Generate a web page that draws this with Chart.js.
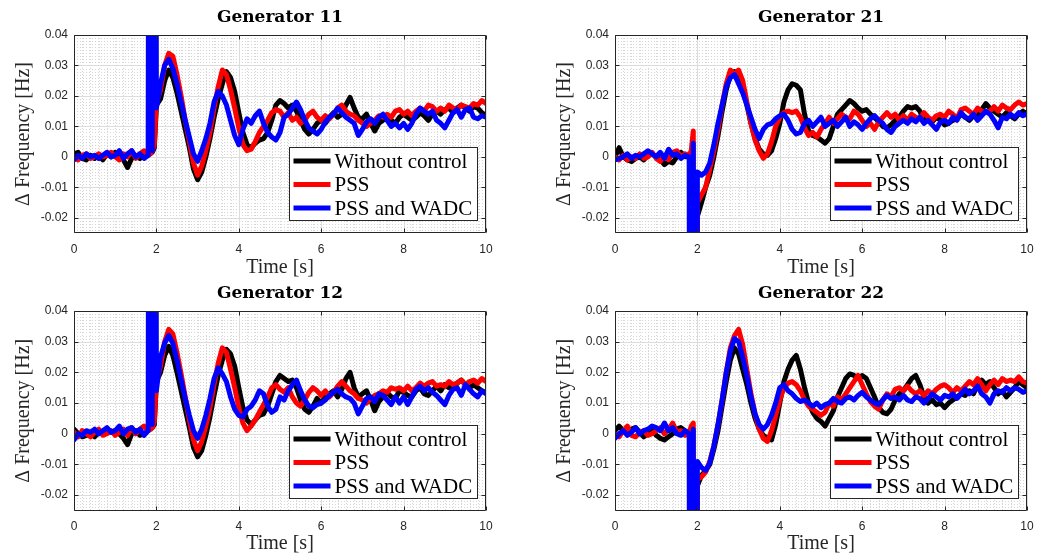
<!DOCTYPE html>
<html>
<head>
<meta charset="utf-8">
<title>Generator frequency deviation</title>
<script src="https://cdn.jsdelivr.net/npm/chart.js@4.4.1/dist/chart.umd.min.js"></script>
<style>
  html, body { margin: 0; padding: 0; background: #ffffff; }
  #wrap { position: relative; width: 1048px; height: 556px; overflow: hidden; }
  #wrap canvas { position: absolute; }
</style>
</head>
<body>
<div id="wrap"></div>
<script>
// ---- sample times [s]: 0.1 s steps, with extra samples during the fault ----
const timeS = [
  ...Array.from({ length: 19 }, (_, i) => +(i / 10).toFixed(2)),
  1.85, 1.9, 1.95,
  ...Array.from({ length: 81 }, (_, i) => +(2 + i / 10).toFixed(2))
];

const xTicks = [0, 2, 4, 6, 8, 10];
const yTicks = [-0.02, -0.01, 0, 0.01, 0.02, 0.03, 0.04];
const seriesNames = ['Without control', 'PSS', 'PSS and WADC'];
const seriesColors = ['#000000', '#ff0000', '#0000ff'];
const panelTitles = ['Generator 11', 'Generator 21', 'Generator 12', 'Generator 22'];

// ---- Generator 11 : frequency deviation [Hz] ----
const g11NoCtrl = [
  0.001, 0.0015, -0.0005, -0.001, 0.0005, -0.0005, 0.0005, -0.001, 0.001, 0, 0.0015, 0.0005, -0.001, -0.0035, -0.0005, 0.0005, -0.0005, 0.0005, 0.0005,
  0.001, 0.0015, 0.003,
  0.017, 0.019, 0.025, 0.0285, 0.026, 0.021, 0.015, 0.009, 0.003, -0.004,
  -0.0075, -0.005, 0, 0.006, 0.013, 0.019, 0.024, 0.028, 0.026, 0.0215,
  0.0145, 0.008, 0.004, 0.003, 0.0045, 0.0055, 0.006, 0.008, 0.012, 0.017,
  0.0185, 0.0175, 0.016, 0.017, 0.015, 0.012, 0.009, 0.0075, 0.009, 0.011,
  0.012, 0.011, 0.013, 0.0145, 0.013, 0.014, 0.017, 0.0195, 0.016, 0.013,
  0.0125, 0.014, 0.011, 0.0085, 0.011, 0.012, 0.013, 0.012, 0.011, 0.013,
  0.014, 0.013, 0.012, 0.013, 0.0145, 0.0135, 0.012, 0.014, 0.015, 0.014,
  0.0155, 0.016, 0.0145, 0.016, 0.017, 0.016, 0.015, 0.0165, 0.016, 0.0145,
  0.0135
];
const g11Pss = [
  0, -0.001, 0.0005, 0.001, -0.0005, 0, 0.001, 0, 0.0005, 0.0015, 0, -0.001, 0.001, 0, 0.002, -0.0005, 0.001, 0.002, 0.0005,
  0.001, 0.002, 0.004,
  0.018, 0.022, 0.030, 0.034, 0.033, 0.027, 0.020, 0.012, 0.005, -0.002,
  -0.006, -0.003, 0.002, 0.008, 0.016, 0.023, 0.0285, 0.027, 0.022, 0.016,
  0.0095, 0.004, 0.002, 0.0025, 0.005, 0.008, 0.010, 0.012, 0.0145, 0.0155,
  0.015, 0.013, 0.0145, 0.012, 0.013, 0.011, 0.012, 0.014, 0.015, 0.013,
  0.012, 0.0135, 0.0125, 0.014, 0.016, 0.017, 0.015, 0.014, 0.0135, 0.012,
  0.011, 0.010, 0.011, 0.012, 0.0135, 0.013, 0.014, 0.013, 0.015, 0.0155,
  0.014, 0.015, 0.0135, 0.015, 0.016, 0.015, 0.017, 0.0165, 0.015, 0.016,
  0.015, 0.017, 0.016, 0.0155, 0.017, 0.0165, 0.016, 0.0175, 0.017, 0.0185,
  0.0175
];
const g11Wadc = [
  -0.001, 0.0005, -0.0005, 0.001, 0, 0.0005, -0.0005, 0.0005, 0.0015, 0, 0.0005, 0.002, -0.0005, 0.001, 0.002, 0, 0.001, -0.0005, 0.0005,
  0.4, 0.002, 0.4,
  0.016, 0.024, 0.030, 0.032, 0.029, 0.024, 0.018, 0.012, 0.0065, 0.001,
  -0.0015, 0.002, 0.006, 0.011, 0.018, 0.0215, 0.020, 0.017, 0.012, 0.007,
  0.004, 0.009, 0.0125, 0.011, 0.0135, 0.015, 0.011, 0.008, 0.0065, 0.0055,
  0.008, 0.013, 0.014, 0.016, 0.018, 0.0155, 0.012, 0.0095, 0.0085, 0.0075,
  0.009, 0.0115, 0.013, 0.014, 0.016, 0.0145, 0.013, 0.012, 0.011, 0.007,
  0.009, 0.0115, 0.0125, 0.011, 0.013, 0.014, 0.012, 0.010, 0.011, 0.0095,
  0.011, 0.009, 0.011, 0.014, 0.016, 0.015, 0.014, 0.015, 0.012, 0.011,
  0.0095, 0.012, 0.0145, 0.0155, 0.013, 0.0155, 0.016, 0.013, 0.0125, 0.0135,
  0.013
];

// ---- Generator 12 ----
const g12NoCtrl = [
  0.0015, 0, -0.001, -0.0005, 0, -0.001, 0.0005, 0, 0.0015, 0.0005, 0.001, 0, -0.0015, -0.0035, 0, 0.001, -0.0005, 0, 0.001,
  0.0015, 0.002, 0.003,
  0.017, 0.020, 0.0255, 0.0285, 0.0255, 0.020, 0.014, 0.008, 0.002, -0.0045,
  -0.0075, -0.0055, -0.0005, 0.0055, 0.0125, 0.019, 0.024, 0.0275, 0.026, 0.022,
  0.015, 0.0085, 0.0045, 0.003, 0.0045, 0.006, 0.0065, 0.009, 0.013, 0.017,
  0.019, 0.018, 0.017, 0.0175, 0.015, 0.011, 0.008, 0.007, 0.009, 0.0115,
  0.010, 0.012, 0.013, 0.014, 0.012, 0.0145, 0.018, 0.020, 0.015, 0.012,
  0.013, 0.014, 0.011, 0.0075, 0.0105, 0.012, 0.0135, 0.012, 0.0115, 0.014,
  0.0135, 0.0125, 0.012, 0.014, 0.015, 0.013, 0.0125, 0.014, 0.0155, 0.014,
  0.016, 0.015, 0.0155, 0.0165, 0.0175, 0.016, 0.015, 0.016, 0.015, 0.014,
  0.0135
];
const g12Pss = [
  0.0005, -0.001, 0.001, 0, -0.001, 0.0005, 0.0015, -0.0005, 0, 0.001, -0.0005, 0.0005, 0.0015, -0.0005, 0.002, 0, 0.0015, 0.0025, 0.001,
  0.0015, 0.002, 0.004,
  0.017, 0.022, 0.030, 0.034, 0.0325, 0.0265, 0.0195, 0.012, 0.0045, -0.002,
  -0.0055, -0.0025, 0.0025, 0.0085, 0.016, 0.023, 0.028, 0.0265, 0.021, 0.015,
  0.0085, 0.0035, 0.001, 0.0025, 0.0045, 0.007, 0.0095, 0.012, 0.015, 0.016,
  0.0145, 0.0135, 0.015, 0.012, 0.010, 0.009, 0.011, 0.0135, 0.015, 0.014,
  0.0125, 0.014, 0.012, 0.0135, 0.0155, 0.017, 0.0155, 0.014, 0.013, 0.0115,
  0.011, 0.010, 0.0115, 0.0125, 0.013, 0.014, 0.0135, 0.015, 0.0145, 0.015,
  0.014, 0.0155, 0.014, 0.015, 0.0165, 0.0155, 0.0165, 0.017, 0.0155, 0.016,
  0.0155, 0.017, 0.016, 0.0165, 0.0175, 0.016, 0.017, 0.0175, 0.0165, 0.018,
  0.017
];
const g12Wadc = [
  -0.002, 0, -0.0005, 0.001, 0.0005, 0.0015, 0, 0.001, 0.002, 0.0005, 0.001, 0.0025, 0, 0.0015, 0.002, 0.0005, 0.0015, -0.0005, 0.001,
  0.4, 0.003, 0.4,
  0.014, 0.025, 0.0295, 0.032, 0.0295, 0.024, 0.0175, 0.0115, 0.006, 0.001,
  -0.0015, 0.0015, 0.006, 0.0115, 0.018, 0.0215, 0.0195, 0.017, 0.012, 0.008,
  0.006, 0.0055, 0.008, 0.009, 0.011, 0.014, 0.013, 0.009, 0.007, 0.008,
  0.012, 0.011, 0.014, 0.016, 0.0175, 0.014, 0.011, 0.009, 0.0085, 0.0095,
  0.010, 0.011, 0.0125, 0.0135, 0.0145, 0.013, 0.012, 0.0115, 0.010, 0.0065,
  0.009, 0.0115, 0.012, 0.0105, 0.013, 0.0125, 0.011, 0.0095, 0.012, 0.010,
  0.012, 0.0095, 0.012, 0.0145, 0.0155, 0.014, 0.015, 0.0135, 0.0125, 0.011,
  0.0095, 0.0125, 0.0145, 0.015, 0.0125, 0.016, 0.0145, 0.013, 0.012, 0.014,
  0.013
];

// ---- Generator 21 ----
const g21NoCtrl = [
  0, 0.003, 0, -0.001, -0.0015, -0.0005, 0, -0.001, 0.0005, 0.001, 0, -0.001, -0.0025, -0.0015, -0.002, 0, 0.0015, 0, 0,
  -0.0005, -0.4, -0.4,
  -0.0195, -0.015, -0.010, -0.006, 0, 0.007, 0.015, 0.022, 0.027, 0.028,
  0.0275, 0.023, 0.017, 0.011, 0.006, 0.0025, 0.001, 0.0005, 0.002, 0.006,
  0.011, 0.018, 0.022, 0.024, 0.0235, 0.022, 0.014, 0.0085, 0.007, 0.0065,
  0.0055, 0.0045, 0.006, 0.010, 0.014, 0.0155, 0.017, 0.0185, 0.0175, 0.016,
  0.015, 0.0155, 0.014, 0.013, 0.0115, 0.010, 0.0095, 0.0105, 0.012, 0.013,
  0.015, 0.0165, 0.016, 0.0165, 0.015, 0.012, 0.0125, 0.0115, 0.013, 0.012,
  0.0105, 0.011, 0.012, 0.0125, 0.014, 0.013, 0.012, 0.0135, 0.014, 0.0155,
  0.0175, 0.016, 0.015, 0.014, 0.013, 0.0145, 0.0135, 0.0125, 0.014, 0.015,
  0.014
];
const g21Pss = [
  0, -0.001, 0.0005, -0.001, 0, -0.0005, 0.001, -0.0005, 0, 0.0015, -0.0005, -0.0015, 0.0005, -0.001, 0.0015, 0.002, 0, 0.001, 0.0005,
  0.002, 0.0085, -0.4,
  -0.015, -0.0125, -0.010, -0.004, 0.002, 0.009, 0.017, 0.024, 0.0285, 0.027,
  0.0285, 0.025, 0.018, 0.011, 0.0055, 0.002, -0.0005, 0.001, 0.005, 0.010,
  0.013, 0.0145, 0.015, 0.0145, 0.015, 0.013, 0.0095, 0.007, 0.008, 0.0065,
  0.009, 0.011, 0.013, 0.011, 0.0125, 0.014, 0.013, 0.0125, 0.015, 0.014,
  0.012, 0.010, 0.011, 0.009, 0.0115, 0.013, 0.0145, 0.013, 0.014, 0.012,
  0.0135, 0.012, 0.014, 0.013, 0.0125, 0.0145, 0.013, 0.012, 0.0135, 0.014,
  0.013, 0.015, 0.014, 0.0125, 0.0155, 0.016, 0.015, 0.014, 0.016, 0.015,
  0.0145, 0.015, 0.0165, 0.015, 0.017, 0.016, 0.0155, 0.017, 0.018, 0.017,
  0.0175
];
const g21Wadc = [
  -0.001, -0.0005, 0, 0.001, -0.0005, 0.0005, 0, 0.001, 0.002, 0.001, 0, 0.0015, -0.0005, 0.0025, 0.0005, 0.001, -0.0005, 0.0005, 0,
  -0.4, 0.0045, -0.4,
  -0.005, -0.006, -0.005, -0.002, 0.004, 0.011, 0.017, 0.023, 0.026, 0.027,
  0.024, 0.021, 0.017, 0.013, 0.009, 0.006, 0.009, 0.0105, 0.011, 0.0125,
  0.0135, 0.014, 0.012, 0.009, 0.0075, 0.008, 0.011, 0.012, 0.010, 0.0115,
  0.013, 0.010, 0.011, 0.012, 0.010, 0.0115, 0.013, 0.010, 0.0115, 0.0105,
  0.009, 0.011, 0.0125, 0.0135, 0.012, 0.011, 0.009, 0.008, 0.010, 0.011,
  0.012, 0.011, 0.0125, 0.0115, 0.013, 0.011, 0.012, 0.0105, 0.009, 0.0115,
  0.012, 0.011, 0.013, 0.012, 0.0145, 0.013, 0.0125, 0.014, 0.012, 0.0135,
  0.015, 0.014, 0.012, 0.0095, 0.013, 0.0125, 0.014, 0.013, 0.0145, 0.0135,
  0.014
];

// ---- Generator 22 ----
const g22NoCtrl = [
  0.001, 0.0025, 0.001, 0, 0.0015, 0.002, 0.0005, -0.001, 0, 0.001, -0.0005, -0.0015, -0.002, -0.001, 0, 0.0015, 0.002, 0.001, 0,
  -0.001, -0.4, -0.4,
  -0.017, -0.0135, -0.012, -0.010, -0.005, 0.001, 0.009, 0.017, 0.024, 0.028,
  0.026, 0.021, 0.016, 0.010, 0.005, 0.0015, -0.0005, -0.0015, -0.002, 0.003,
  0.010, 0.017, 0.021, 0.024, 0.0255, 0.021, 0.015, 0.010, 0.007, 0.005,
  0.004, 0.0025, 0.005, 0.0075, 0.012, 0.015, 0.018, 0.0195, 0.019, 0.018,
  0.019, 0.018, 0.015, 0.012, 0.0085, 0.007, 0.0065, 0.008, 0.011, 0.013,
  0.014, 0.016, 0.018, 0.019, 0.016, 0.012, 0.010, 0.011, 0.0095, 0.010,
  0.0085, 0.010, 0.011, 0.012, 0.013, 0.0125, 0.014, 0.013, 0.016, 0.0175,
  0.016, 0.017, 0.015, 0.013, 0.014, 0.012, 0.0135, 0.015, 0.017, 0.016,
  0.015
];
const g22Pss = [
  0, -0.001, 0.001, 0.0025, -0.0005, -0.001, 0.0005, 0.001, -0.0005, 0, 0.001, 0.002, 0, 0.0015, 0.0035, 0.0005, 0.001, -0.0005, 0,
  0.0025, 0.0035, -0.4,
  -0.015, -0.014, -0.0125, -0.009, -0.004, 0.003, 0.011, 0.020, 0.028, 0.032,
  0.034, 0.029, 0.021, 0.013, 0.0065, 0.0015, -0.0015, -0.0025, 0.001, 0.006,
  0.011, 0.015, 0.0165, 0.017, 0.016, 0.014, 0.011, 0.009, 0.008, 0.007,
  0.006, 0.007, 0.010, 0.009, 0.012, 0.011, 0.013, 0.015, 0.017, 0.019,
  0.016, 0.013, 0.0105, 0.009, 0.008, 0.011, 0.013, 0.012, 0.0145, 0.015,
  0.014, 0.0155, 0.014, 0.013, 0.014, 0.0125, 0.014, 0.013, 0.0145, 0.0155,
  0.016, 0.015, 0.0135, 0.015, 0.014, 0.0155, 0.017, 0.016, 0.018, 0.016,
  0.014, 0.016, 0.0175, 0.016, 0.018, 0.017, 0.0175, 0.017, 0.0185, 0.017,
  0.0165
];
const g22Wadc = [
  -0.0015, 0, 0.001, -0.0005, 0.0005, 0.002, 0, 0.001, 0.0015, 0.0025, 0.002, 0.001, 0.0035, 0.001, 0.002, 0, -0.0005, 0.001, 0,
  -0.4, 0.0015, -0.4,
  -0.009, -0.011, -0.012, -0.0095, -0.004, 0.003, 0.011, 0.020, 0.027, 0.031,
  0.030, 0.025, 0.019, 0.012, 0.0065, 0.003, 0.0015, 0.003, 0.006, 0.010,
  0.015, 0.016, 0.014, 0.013, 0.0115, 0.0105, 0.011, 0.010, 0.009, 0.010,
  0.0085, 0.0095, 0.010, 0.0115, 0.0105, 0.010, 0.0115, 0.012, 0.011, 0.0125,
  0.0135, 0.012, 0.011, 0.010, 0.0095, 0.011, 0.0125, 0.0115, 0.012, 0.011,
  0.0125, 0.011, 0.0105, 0.012, 0.0115, 0.010, 0.0115, 0.013, 0.012, 0.011,
  0.0125, 0.012, 0.013, 0.0115, 0.013, 0.0145, 0.013, 0.014, 0.0155, 0.013,
  0.012, 0.010, 0.013, 0.014, 0.0135, 0.015, 0.014, 0.015, 0.0145, 0.0135,
  0.014
];

// ---- subplot placement (canvas box and plot box, in page pixels) ----
const panels = [
  { title: panelTitles[0], series: [g11NoCtrl, g11Pss, g11Wadc], left: 0,   top: 0,   w: 524, h: 280, plotLeft: 74, plotRight: 486, plotBottom: 233 },
  { title: panelTitles[1], series: [g21NoCtrl, g21Pss, g21Wadc], left: 541, top: 0,   w: 507, h: 280, plotLeft: 74, plotRight: 486, plotBottom: 233 },
  { title: panelTitles[2], series: [g12NoCtrl, g12Pss, g12Wadc], left: 0,   top: 276, w: 524, h: 280, plotLeft: 74, plotRight: 486, plotBottom: 234.5 },
  { title: panelTitles[3], series: [g22NoCtrl, g22Pss, g22Wadc], left: 541, top: 276, w: 507, h: 280, plotLeft: 74, plotRight: 486, plotBottom: 234.5 }
];

const AXIS_COLOR = '#262626';
const SERIF = 'Liberation Serif';

// MATLAB-style axes: dotted minor grid, light major grid, boxed frame with inward ticks, boxed legend
const matlabAxes = {
  id: 'matlabAxes',
  beforeDatasetsDraw(chart) {
    const { ctx, chartArea: a, scales: { x, y } } = chart;
    ctx.save();
    ctx.lineWidth = 1;
    ctx.strokeStyle = '#d6d6d6';
    ctx.setLineDash([1, 2]);
    ctx.beginPath();
    for (let k = 1; k < 50; k++) {
      if (k % 10 === 0) continue;
      const px = Math.round(x.getPixelForValue(k * 0.2)) + 0.5;
      ctx.moveTo(px, a.top); ctx.lineTo(px, a.bottom);
    }
    for (let k = -24; k < 40; k++) {
      if (k % 10 === 0) continue;
      const py = Math.round(y.getPixelForValue(k / 1000)) + 0.5;
      ctx.moveTo(a.left, py); ctx.lineTo(a.right, py);
    }
    ctx.stroke();
    ctx.setLineDash([]);
    ctx.strokeStyle = '#dcdcdc';
    ctx.beginPath();
    xTicks.forEach(v => {
      const px = Math.round(x.getPixelForValue(v)) + 0.5;
      ctx.moveTo(px, a.top); ctx.lineTo(px, a.bottom);
    });
    yTicks.forEach(v => {
      const py = Math.round(y.getPixelForValue(v)) + 0.5;
      ctx.moveTo(a.left, py); ctx.lineTo(a.right, py);
    });
    ctx.stroke();
    ctx.restore();
  },
  afterDatasetsDraw(chart) {
    const { ctx, chartArea: a, scales: { x, y } } = chart;
    const L = Math.round(a.left) + 0.5, R = Math.round(a.right) - 0.5;
    const T = Math.round(a.top) + 0.5, B = Math.round(a.bottom) - 0.5;
    ctx.save();
    ctx.lineWidth = 1;
    ctx.strokeStyle = AXIS_COLOR;
    ctx.beginPath();
    ctx.rect(L, T, R - L, B - T);
    const tl = 4;
    xTicks.forEach(v => {
      const px = Math.round(x.getPixelForValue(v)) + 0.5;
      ctx.moveTo(px, B); ctx.lineTo(px, B - tl);
      ctx.moveTo(px, T); ctx.lineTo(px, T + tl);
    });
    yTicks.forEach(v => {
      const py = Math.round(y.getPixelForValue(v)) + 0.5;
      ctx.moveTo(L, py); ctx.lineTo(L + tl, py);
      ctx.moveTo(R, py); ctx.lineTo(R - tl, py);
    });
    ctx.stroke();

    // legend box, lower right inside the axes
    const bw = 188, bh = 73;
    const bx = Math.round(a.right - 9 - bw) + 0.5;
    const by = Math.round(a.bottom - 13 - bh) + 0.5;
    ctx.fillStyle = '#ffffff';
    ctx.fillRect(bx, by, bw, bh);
    ctx.strokeStyle = AXIS_COLOR;
    ctx.strokeRect(bx, by, bw, bh);
    ctx.font = '21px "' + SERIF + '"';
    ctx.textBaseline = 'middle';
    ctx.textAlign = 'left';
    chart.data.datasets.forEach((ds, i) => {
      const ry = by + 13.5 + i * 23.5;
      ctx.strokeStyle = ds.borderColor;
      ctx.lineWidth = 5;
      ctx.beginPath();
      ctx.moveTo(bx + 4, ry); ctx.lineTo(bx + 41, ry);
      ctx.stroke();
      ctx.fillStyle = '#000000';
      ctx.fillText(ds.label, bx + 45, ry + 1);
    });
    ctx.restore();
  }
};

const fmtY = v => (Math.abs(v) < 1e-12 ? '0' : String(Math.round(v * 100) / 100));

const wrap = document.getElementById('wrap');
panels.forEach(p => {
  const cv = document.createElement('canvas');
  cv.width = p.w; cv.height = p.h;
  cv.style.left = p.left + 'px'; cv.style.top = p.top + 'px';
  cv.style.width = p.w + 'px'; cv.style.height = p.h + 'px';
  wrap.appendChild(cv);

  const datasets = p.series.map((vals, i) => ({
    label: seriesNames[i],
    data: timeS.map((t, k) => ({ x: t, y: vals[k] })),
    borderColor: seriesColors[i],
    backgroundColor: seriesColors[i],
    borderWidth: 5,
    pointRadius: 0,
    tension: 0,
    borderJoinStyle: 'round',
    borderCapStyle: 'round',
    clip: 0,
    order: 3 - i
  }));

  new Chart(cv, {
    type: 'line',
    data: { datasets },
    options: {
      responsive: false,
      animation: false,
      devicePixelRatio: 1,
      events: [],
      layout: { padding: { left: 0, right: p.w - p.plotRight, top: 0, bottom: 0 } },
      plugins: {
        legend: { display: false },
        tooltip: { enabled: false },
        title: {
          display: true,
          fullSize: false,
          text: p.title,
          color: '#000000',
          font: { family: 'DejaVu Serif', size: 17, weight: 'bold', lineHeight: 20 / 17 },
          padding: { top: 8, bottom: 7 }
        }
      },
      scales: {
        x: {
          type: 'linear',
          min: 0, max: 10,
          afterBuildTicks: s => { s.ticks = xTicks.map(v => ({ value: v })); },
          afterFit: s => { s.height = p.h - p.plotBottom; },
          grid: { display: false, drawTicks: false },
          border: { display: false },
          ticks: {
            color: AXIS_COLOR, autoSkip: false, maxRotation: 0, padding: 9,
            font: { family: 'Liberation Sans', size: 12 },
            callback: v => String(v)
          },
          title: {
            display: true, text: 'Time [s]', color: AXIS_COLOR,
            font: { family: SERIF, size: 20, lineHeight: 1 },
            padding: { top: 0, bottom: 2 }
          }
        },
        y: {
          type: 'linear',
          min: -0.025, max: 0.04,
          afterBuildTicks: s => { s.ticks = yTicks.map(v => ({ value: v })); },
          afterFit: s => { s.width = p.plotLeft; },
          grid: { display: false, drawTicks: false },
          border: { display: false },
          ticks: {
            color: AXIS_COLOR, autoSkip: false, padding: 6,
            font: { family: 'Liberation Sans', size: 12 },
            callback: v => fmtY(v)
          },
          title: {
            display: true, text: '\u0394 Frequency [Hz]', color: AXIS_COLOR,
            font: { family: SERIF, size: 20, lineHeight: 1 },
            padding: { top: 14, bottom: 0 }
          }
        }
      }
    },
    plugins: [matlabAxes]
  });
});
</script>
</body>
</html>
